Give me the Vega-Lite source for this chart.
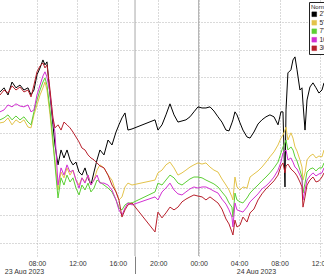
{
 "$schema": "https://vega.github.io/schema/vega-lite/v6.json",
 "width": 324,
 "height": 256,
 "autosize": {"type": "none"},
 "padding": {"left": 0, "top": 0, "right": 0, "bottom": 18},
 "background": "white",
 "config": {"view": {"stroke": null}, "font": "Liberation Sans"},
 "layer": [
  {
   "data": {"values": [{"t": 17.7}, {"t": 24}]},
   "mark": {"type": "rule", "color": "#a8a8a8", "strokeWidth": 1},
   "encoding": {
    "x": {"field": "t", "type": "quantitative",
     "scale": {"domain": [4.34, 36.4], "nice": false, "zero": false},
     "axis": {"orient": "bottom", "title": null, "values": [6.71, 17.7, 29.67], "grid": false, "domain": false,
      "labelExpr": "datum.value < 10 ? '23 Aug 2023' : (datum.value > 25 ? '24 Aug 2023' : '')",
      "ticks": true, "tickSize": 18, "tickColor": "#808080",
      "tickOpacity": {"condition": {"test": "datum.value > 17 && datum.value < 18", "value": 1}, "value": 0},
      "labelPadding": -6.5, "labelFontSize": 7, "labelColor": "#333333", "offset": 0}
    }
   }
  },
  {
   "data": {"values": [
    {"t":4.34,"2Y":5.47,"5Y":4.35,"7Y":4.46,"10Y":4.75,"30Y":5.36},
    {"t":4.74,"2Y":5.62,"5Y":4.38,"7Y":4.53,"10Y":4.82,"30Y":5.54},
    {"t":5.13,"2Y":5.36,"5Y":4.53,"7Y":4.64,"10Y":5.00,"30Y":5.43},
    {"t":5.53,"2Y":5.83,"5Y":4.28,"7Y":4.46,"10Y":4.93,"30Y":5.69},
    {"t":5.92,"2Y":5.62,"5Y":4.46,"7Y":4.60,"10Y":5.04,"30Y":5.54},
    {"t":6.32,"2Y":5.72,"5Y":4.35,"7Y":4.46,"10Y":4.96,"30Y":5.65},
    {"t":6.71,"2Y":5.54,"5Y":4.46,"7Y":4.57,"10Y":4.93,"30Y":5.47},
    {"t":7.11,"2Y":5.62,"5Y":4.20,"7Y":4.38,"10Y":5.00,"30Y":5.54},
    {"t":7.41,"2Y":5.36,"5Y":4.17,"7Y":4.28,"10Y":4.75,"30Y":5.29},
    {"t":7.70,"2Y":5.54,"5Y":4.64,"7Y":4.75,"10Y":4.82,"30Y":5.72},
    {"t":8.00,"2Y":6.09,"5Y":5.00,"7Y":5.18,"10Y":5.36,"30Y":6.20},
    {"t":8.30,"2Y":6.34,"5Y":5.36,"7Y":5.54,"10Y":5.72,"30Y":6.41},
    {"t":8.59,"2Y":6.63,"5Y":5.62,"7Y":5.83,"10Y":6.05,"30Y":6.52},
    {"t":8.79,"2Y":6.45,"5Y":5.83,"7Y":5.98,"10Y":6.20,"30Y":6.34},
    {"t":8.99,"2Y":6.56,"5Y":5.54,"7Y":5.72,"10Y":6.01,"30Y":6.45},
    {"t":9.29,"2Y":5.36,"5Y":4.64,"7Y":4.82,"10Y":5.43,"30Y":5.54},
    {"t":9.58,"2Y":4.28,"5Y":3.55,"7Y":3.73,"10Y":4.46,"30Y":4.53},
    {"t":9.78,"2Y":3.55,"5Y":3.01,"7Y":2.83,"10Y":3.99,"30Y":4.17},
    {"t":10.08,"2Y":2.83,"5Y":1.92,"7Y":1.63,"10Y":2.10,"30Y":4.28},
    {"t":10.38,"2Y":3.37,"5Y":2.57,"7Y":2.36,"10Y":2.72,"30Y":4.09},
    {"t":10.67,"2Y":3.08,"5Y":2.36,"7Y":2.10,"10Y":2.46,"30Y":4.38},
    {"t":10.97,"2Y":3.37,"5Y":2.72,"7Y":2.46,"10Y":2.83,"30Y":4.28},
    {"t":11.27,"2Y":3.01,"5Y":2.46,"7Y":2.21,"10Y":2.57,"30Y":4.17},
    {"t":11.56,"2Y":2.83,"5Y":2.64,"7Y":2.36,"10Y":2.64,"30Y":4.02},
    {"t":11.86,"2Y":2.93,"5Y":2.28,"7Y":1.99,"10Y":2.28,"30Y":3.84},
    {"t":12.16,"2Y":2.57,"5Y":2.10,"7Y":1.74,"10Y":1.99,"30Y":3.66},
    {"t":12.45,"2Y":2.46,"5Y":2.36,"7Y":2.10,"10Y":2.36,"30Y":3.44},
    {"t":12.75,"2Y":2.72,"5Y":2.21,"7Y":1.92,"10Y":2.17,"30Y":3.37},
    {"t":13.05,"2Y":2.36,"5Y":2.46,"7Y":2.17,"10Y":2.46,"30Y":3.19},
    {"t":13.34,"2Y":2.10,"5Y":2.10,"7Y":1.85,"10Y":2.10,"30Y":3.08},
    {"t":13.64,"2Y":2.57,"5Y":2.28,"7Y":1.99,"10Y":2.28,"30Y":3.01},
    {"t":13.94,"2Y":3.01,"5Y":2.64,"7Y":2.28,"10Y":2.46,"30Y":2.90},
    {"t":14.23,"2Y":3.37,"5Y":2.83,"7Y":2.21,"10Y":2.17,"30Y":2.79},
    {"t":14.63,"2Y":3.19,"5Y":2.72,"7Y":2.10,"10Y":2.17,"30Y":2.72},
    {"t":15.03,"2Y":3.73,"5Y":2.46,"7Y":1.99,"10Y":2.10,"30Y":2.46},
    {"t":15.42,"2Y":3.55,"5Y":2.28,"7Y":1.85,"10Y":1.92,"30Y":2.10},
    {"t":15.82,"2Y":4.02,"5Y":1.85,"7Y":1.56,"10Y":1.56,"30Y":1.85},
    {"t":16.11,"2Y":4.28,"5Y":1.56,"7Y":1.27,"10Y":1.20,"30Y":1.56},
    {"t":16.41,"2Y":4.53,"5Y":1.67,"7Y":1.20,"10Y":1.01,"30Y":0.94},
    {"t":16.71,"2Y":4.71,"5Y":2.03,"7Y":1.38,"10Y":1.27,"30Y":1.20},
    {"t":17.00,"2Y":4.09,"5Y":2.17,"7Y":1.45,"10Y":1.45,"30Y":1.38},
    {"t":17.40,"2Y":4.13,"5Y":2.10,"7Y":1.45,"10Y":1.38,"30Y":1.45},
    {"t":19.68,"2Y":4.46,"5Y":2.28,"7Y":1.85,"10Y":1.67,"30Y":0.40},
    {"t":19.97,"2Y":4.09,"5Y":2.54,"7Y":2.17,"10Y":1.56,"30Y":1.12},
    {"t":20.37,"2Y":4.28,"5Y":2.64,"7Y":2.10,"10Y":1.85,"30Y":0.91},
    {"t":20.76,"2Y":4.64,"5Y":2.83,"7Y":2.28,"10Y":1.99,"30Y":1.09},
    {"t":21.16,"2Y":5.04,"5Y":2.93,"7Y":2.46,"10Y":2.17,"30Y":1.30},
    {"t":21.56,"2Y":4.64,"5Y":2.72,"7Y":2.36,"10Y":1.92,"30Y":1.20},
    {"t":21.95,"2Y":4.38,"5Y":2.46,"7Y":2.17,"10Y":1.78,"30Y":1.30},
    {"t":22.35,"2Y":4.42,"5Y":2.54,"7Y":2.10,"10Y":1.74,"30Y":1.49},
    {"t":22.74,"2Y":4.46,"5Y":2.64,"7Y":2.21,"10Y":1.85,"30Y":1.59},
    {"t":23.14,"2Y":4.57,"5Y":2.75,"7Y":2.32,"10Y":1.96,"30Y":1.67},
    {"t":23.53,"2Y":4.75,"5Y":2.83,"7Y":2.39,"10Y":2.03,"30Y":1.74},
    {"t":23.93,"2Y":4.93,"5Y":2.90,"7Y":2.39,"10Y":1.99,"30Y":1.70},
    {"t":24.33,"2Y":4.89,"5Y":2.86,"7Y":2.36,"10Y":2.03,"30Y":1.67},
    {"t":24.72,"2Y":4.89,"5Y":2.90,"7Y":2.28,"10Y":2.03,"30Y":1.56},
    {"t":25.12,"2Y":4.93,"5Y":2.75,"7Y":2.21,"10Y":1.96,"30Y":1.67},
    {"t":25.51,"2Y":4.78,"5Y":2.64,"7Y":2.14,"10Y":1.88,"30Y":1.56},
    {"t":25.91,"2Y":4.57,"5Y":2.57,"7Y":2.03,"10Y":1.81,"30Y":1.45},
    {"t":26.30,"2Y":4.38,"5Y":2.32,"7Y":1.85,"10Y":1.59,"30Y":1.23},
    {"t":26.70,"2Y":4.09,"5Y":2.10,"7Y":1.67,"10Y":1.41,"30Y":0.87},
    {"t":27.00,"2Y":4.06,"5Y":1.92,"7Y":1.45,"10Y":1.20,"30Y":0.69},
    {"t":27.29,"2Y":4.35,"5Y":1.67,"7Y":1.30,"10Y":0.94,"30Y":0.40},
    {"t":27.39,"2Y":4.46,"5Y":1.56,"7Y":0.94,"10Y":0.58,"30Y":0.29},
    {"t":27.59,"2Y":4.75,"5Y":2.39,"7Y":1.81,"10Y":1.45,"30Y":0.83},
    {"t":27.79,"2Y":4.64,"5Y":2.03,"7Y":1.56,"10Y":1.20,"30Y":0.58},
    {"t":28.09,"2Y":4.35,"5Y":1.92,"7Y":1.49,"10Y":1.16,"30Y":0.65},
    {"t":28.38,"2Y":4.09,"5Y":2.03,"7Y":1.45,"10Y":1.12,"30Y":0.94},
    {"t":28.78,"2Y":3.84,"5Y":1.99,"7Y":1.63,"10Y":1.30,"30Y":0.76},
    {"t":29.08,"2Y":3.80,"5Y":2.39,"7Y":1.81,"10Y":1.49,"30Y":1.09},
    {"t":29.47,"2Y":4.02,"5Y":2.50,"7Y":1.96,"10Y":1.63,"30Y":1.23},
    {"t":29.87,"2Y":4.31,"5Y":2.61,"7Y":2.10,"10Y":1.78,"30Y":1.56},
    {"t":30.26,"2Y":4.46,"5Y":2.75,"7Y":2.25,"10Y":1.96,"30Y":1.78},
    {"t":30.66,"2Y":4.57,"5Y":2.93,"7Y":2.39,"10Y":2.07,"30Y":1.96},
    {"t":31.05,"2Y":4.64,"5Y":3.12,"7Y":2.54,"10Y":2.21,"30Y":2.10},
    {"t":31.45,"2Y":4.57,"5Y":3.30,"7Y":2.72,"10Y":2.39,"30Y":2.25},
    {"t":31.85,"2Y":4.28,"5Y":3.55,"7Y":2.93,"10Y":2.64,"30Y":2.46},
    {"t":32.14,"2Y":4.75,"5Y":3.80,"7Y":3.26,"10Y":2.93,"30Y":2.79},
    {"t":32.34,"2Y":4.75,"5Y":3.91,"7Y":3.48,"10Y":3.26,"30Y":2.90},
    {"t":32.54,"2Y":2.03,"5Y":4.09,"7Y":3.62,"10Y":3.33,"30Y":2.54},
    {"t":32.64,"2Y":4.82,"5Y":4.20,"7Y":3.73,"10Y":3.37,"30Y":2.79},
    {"t":32.83,"2Y":6.16,"5Y":3.73,"7Y":3.37,"10Y":3.01,"30Y":2.86},
    {"t":33.13,"2Y":6.27,"5Y":3.99,"7Y":3.48,"10Y":3.08,"30Y":2.68},
    {"t":33.33,"2Y":6.63,"5Y":3.80,"7Y":3.37,"10Y":2.93,"30Y":2.61},
    {"t":33.53,"2Y":6.74,"5Y":3.48,"7Y":3.12,"10Y":2.75,"30Y":2.54},
    {"t":33.73,"2Y":6.27,"5Y":3.33,"7Y":2.97,"10Y":2.68,"30Y":2.43},
    {"t":34.02,"2Y":5.54,"5Y":3.01,"7Y":2.64,"10Y":2.46,"30Y":2.21},
    {"t":34.22,"2Y":5.62,"5Y":2.75,"7Y":2.39,"10Y":2.28,"30Y":2.03},
    {"t":34.32,"2Y":5.07,"5Y":2.28,"7Y":1.81,"10Y":1.56,"30Y":1.30},
    {"t":34.52,"2Y":4.09,"5Y":2.54,"7Y":2.17,"10Y":1.92,"30Y":1.67},
    {"t":34.72,"2Y":5.18,"5Y":3.01,"7Y":2.57,"10Y":2.28,"30Y":2.10},
    {"t":35.01,"2Y":5.65,"5Y":3.15,"7Y":2.68,"10Y":2.43,"30Y":2.28},
    {"t":35.31,"2Y":5.80,"5Y":3.22,"7Y":2.72,"10Y":2.54,"30Y":2.39},
    {"t":35.61,"2Y":5.62,"5Y":3.08,"7Y":2.61,"10Y":2.43,"30Y":2.21},
    {"t":35.90,"2Y":5.43,"5Y":3.15,"7Y":2.72,"10Y":2.50,"30Y":2.25},
    {"t":36.20,"2Y":5.54,"5Y":3.12,"7Y":2.72,"10Y":2.54,"30Y":2.39},
    {"t":36.40,"2Y":5.80,"5Y":3.37,"7Y":2.90,"10Y":2.72,"30Y":2.54}
   ]},
   "transform": [{"fold": ["2Y", "5Y", "7Y", "10Y", "30Y"], "as": ["series", "value"]}],
   "mark": {"type": "line", "strokeWidth": 1, "clip": true},
   "encoding": {
    "x": {"field": "t", "type": "quantitative",
     "scale": {"domain": [4.34, 36.4], "nice": false, "zero": false},
     "axis": {"orient": "bottom", "title": null, "values": [4, 8, 12, 16, 20, 24, 28, 32, 36],
      "labelExpr": "(datum.value % 24 < 10 ? '0' : '') + (datum.value % 24) + ':00'",
      "grid": true, "gridDash": [1, 2], "gridColor": "#b4b4b4", "domain": false, "ticks": false,
      "labelPadding": 3.5, "labelFontSize": 7, "labelColor": "#333333", "offset": 0}
    },
    "y": {"field": "value", "type": "quantitative",
     "scale": {"domain": [-0.47, 8.8], "nice": false, "zero": false},
     "axis": {"title": null, "labels": false, "ticks": false, "domain": false,
      "values": [0, 1, 2, 3, 4, 5, 6, 7, 8], "grid": true, "gridDash": [1, 2], "gridColor": "#b4b4b4"}
    },
    "color": {"field": "series", "type": "nominal",
     "scale": {"domain": ["2Y", "5Y", "7Y", "10Y", "30Y"], "range": ["#000000", "#e3c34a", "#5ccf35", "#d230d2", "#b8202c"]},
     "legend": {"orient": "none", "legendX": 309, "legendY": 2, "title": "Normalized",
      "titleFontSize": 6, "titleFontWeight": "normal", "titleColor": "#222222", "titlePadding": 1,
      "labelFontSize": 6.5, "labelColor": "#222222", "labelOffset": 2,
      "symbolType": "square", "symbolSize": 22, "symbolStrokeWidth": 0.5, "rowPadding": 0.5,
      "padding": 2, "fillColor": "white", "strokeColor": "#222222",
      "encode": {"symbols": {"update": {"fill": {"scale": "color", "field": "value"}, "fillOpacity": {"value": 1}}}}}
    }
   }
  }
 ],
 "resolve": {"axis": {"x": "independent"}}
}
